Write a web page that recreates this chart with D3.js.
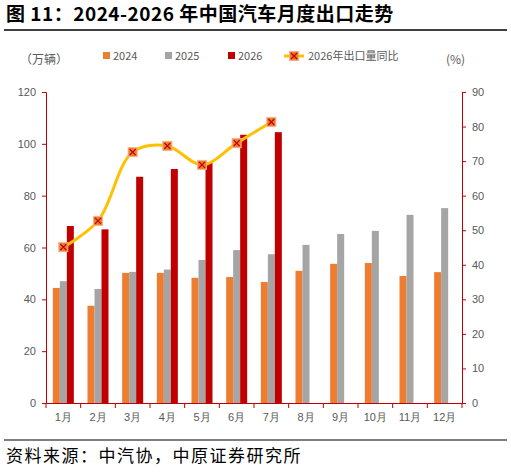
<!DOCTYPE html>
<html><head><meta charset="utf-8">
<script src="https://cdn.jsdelivr.net/npm/d3@7"></script>
<style>body{margin:0;background:#fff;font-family:"Noto Sans CJK SC","Noto Sans",sans-serif}</style>
</head><body><svg id="c" width="511" height="472"></svg>
<script>
const months=["1月","2月","3月","4月","5月","6月","7月","8月","9月","10月","11月","12月"];
const s2024=[44.4,37.5,50.2,50.2,48.3,48.6,46.7,51,53.7,54,49,50.5];
const s2025=[47,44,50.6,51.5,55.2,59,57.4,61,65.2,66.4,72.6,75.2];
const s2026=[68.3,67,87.3,90.3,92.7,103.5,104.5];
const yoy=[45.1,52.7,72.6,74.4,68.9,75.2,81.3];
const leftTicks=[0,20,40,60,80,100,120];
const rightTicks=[0,10,20,30,40,50,60,70,80,90];
const red="#c00000",gray="#595959";
const svg=d3.select("#c");
svg.append("text").attr("x",6).attr("y",21).attr("font-size",19).attr("font-weight","bold").attr("fill","#000").attr("letter-spacing",0.5).text("图 11：2024-2026 年中国汽车月度出口走势");
svg.append("line").attr("x1",4).attr("x2",507).attr("y1",30).attr("y2",30).attr("stroke","#000").attr("stroke-width",1.5);
svg.append("line").attr("x1",4).attr("x2",507).attr("y1",440).attr("y2",440).attr("stroke","#000").attr("stroke-width",1.2);
svg.append("text").attr("x",6).attr("y",462).attr("font-size",17).attr("fill","#000").attr("letter-spacing",1.5).text("资料来源：中汽协，中原证券研究所");
const L=46,R=462,T=92,B=403;
const x=d3.scaleBand().domain(months).range([L,R]);
const y=d3.scaleLinear().domain([0,120]).range([B,T]);
const y2=d3.scaleLinear().domain([0,90]).range([B,T]);
const bw=7;
const series=[[s2024,"#ed7d31",-1.5],[s2025,"#a5a5a5",-0.5],[s2026,red,0.5]];
series.forEach(([d,c,o])=>{
 svg.append("g").selectAll("rect").data(d).join("rect")
  .attr("x",(v,i)=>x(months[i])+x.bandwidth()/2+o*bw).attr("width",bw)
  .attr("y",v=>y(v)).attr("height",v=>B-y(v)).attr("fill",c);
});
const ax=svg.append("g").attr("transform",`translate(0,${B})`).call(d3.axisBottom(x).tickSize(0).tickPadding(10));
ax.select(".domain").attr("stroke",red);
ax.selectAll("text").attr("fill",gray).attr("font-size",11);
svg.append("g").selectAll("line").data(d3.range(13)).join("line")
 .attr("x1",i=>L+i*x.step()).attr("x2",i=>L+i*x.step()).attr("y1",B).attr("y2",B+5).attr("stroke",red);
const al=svg.append("g").attr("transform",`translate(${L},0)`).call(d3.axisLeft(y).tickValues(leftTicks).tickSize(4).tickPadding(6));
al.select(".domain").attr("stroke",red); al.selectAll("line").attr("stroke",red);
al.selectAll("text").attr("fill",gray).attr("font-size",11);
const ar=svg.append("g").attr("transform",`translate(${R},0)`).call(d3.axisRight(y2).tickValues(rightTicks).tickSize(4).tickPadding(6));
ar.select(".domain").attr("stroke",red); ar.selectAll("line").attr("stroke",red);
ar.selectAll("text").attr("fill",gray).attr("font-size",11);
const px=i=>x(months[i])+x.bandwidth()/2;
svg.append("path").datum(yoy).attr("d",d3.line().x((v,i)=>px(i)).y(v=>y2(v)).curve(d3.curveCatmullRom.alpha(0.5)))
 .attr("fill","none").attr("stroke","#ffc000").attr("stroke-width",3);
function marker(g,cx,cy){
 g.append("rect").attr("x",cx-4.5).attr("y",cy-4.5).attr("width",9).attr("height",9).attr("fill","#ed7d31").attr("stroke","#f4b183").attr("stroke-width",1);
 g.append("path").attr("d",`M${cx-3},${cy-3}L${cx+3},${cy+3}M${cx+3},${cy-3}L${cx-3},${cy+3}`).attr("stroke",red).attr("stroke-width",1.3);
}
yoy.forEach((v,i)=>marker(svg,px(i),y2(v)));
svg.append("text").attr("x",20).attr("y",64).attr("font-size",12).attr("fill",gray).text("（万辆）");
svg.append("text").attr("x",446).attr("y",64).attr("font-size",12).attr("fill",gray).text("(%)");
const lg=svg.append("g").attr("font-size",11).attr("fill",gray);
[["2024","#ed7d31",103],["2025","#a5a5a5",165],["2026",red,228]].forEach(([t,c,lx])=>{
 lg.append("rect").attr("x",lx).attr("y",52).attr("width",7).attr("height",7).attr("fill",c);
 lg.append("text").attr("x",lx+10).attr("y",60).attr("fill",gray).text(t);
});
lg.append("line").attr("x1",284).attr("x2",304).attr("y1",56).attr("y2",56).attr("stroke","#ffc000").attr("stroke-width",3);
marker(lg,294,56);
lg.append("text").attr("x",308).attr("y",60).attr("fill",gray).text("2026年出口量同比");
</script></body></html>
